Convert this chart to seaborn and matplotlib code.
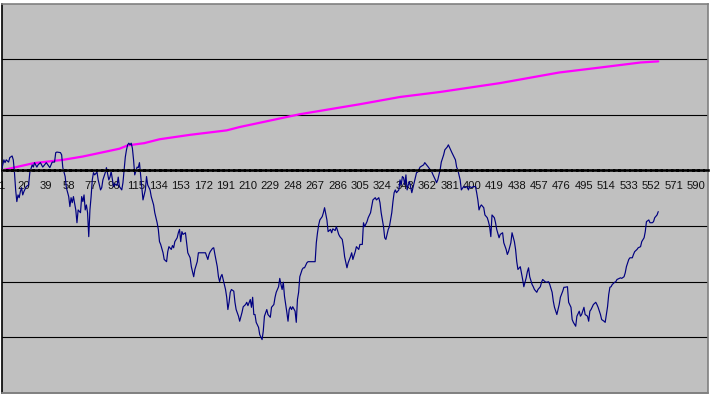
import matplotlib
matplotlib.use("Agg")
import matplotlib.pyplot as plt
import seaborn as sns
import pandas as pd

# ---- data (category index, value) ----
walk_x = [1, 3, 4, 5, 7, 8, 10, 11, 12, 13, 14, 15, 16, 17, 18, 19, 20, 22, 24, 25,
          27, 28, 29, 31, 32, 34, 36, 39, 42, 44, 46, 47, 48, 51, 52, 53, 55, 56, 58, 59,
          60, 61, 62, 64, 65, 66, 68, 69, 70, 71, 72, 73, 74, 75, 76, 77, 78, 79, 80, 82,
          83, 85, 86, 87, 89, 90, 92, 93, 94, 96, 97, 99, 100, 101, 103, 104, 106, 107, 108, 109,
          110, 111, 112, 113, 114, 116, 117, 118, 119, 120, 121, 123, 124, 125, 127, 128, 130, 131, 133, 134,
          135, 136, 138, 139, 141, 142, 143, 145, 146, 147, 148, 150, 151, 152, 153, 154, 155, 157, 158, 159,
          161, 162, 164, 165, 167, 168, 171, 174, 176, 177, 178, 180, 181, 182, 184, 185, 186, 187, 188, 189,
          191, 192, 193, 194, 195, 196, 198, 199, 200, 202, 203, 205, 206, 208, 209, 210, 212, 213, 214, 215,
          216, 217, 219, 220, 222, 223, 224, 226, 227, 229, 230, 232, 233, 234, 236, 237, 238, 239, 240, 241,
          243, 244, 245, 246, 247, 248, 250, 251, 252, 253, 254, 256, 257, 258, 260, 261, 267, 268, 269, 270,
          271, 273, 274, 275, 277, 278, 280, 281, 282, 284, 285, 287, 288, 290, 291, 292, 294, 295, 297, 298,
          299, 301, 302, 304, 305, 307, 308, 309, 311, 312, 314, 315, 316, 318, 319, 321, 322, 323, 325, 326,
          327, 328, 329, 330, 332, 333, 334, 335, 336, 338, 339, 340, 341, 342, 343, 344, 345, 346, 347, 349,
          350, 352, 353, 354, 356, 359, 360, 363, 366, 367, 369, 370, 371, 373, 374, 376, 377, 379, 380, 383,
          386, 387, 388, 390, 391, 393, 394, 396, 397, 398, 400, 401, 403, 404, 405, 406, 407, 408, 410, 411,
          413, 414, 415, 416, 417, 419, 420, 421, 423, 424, 426, 427, 429, 430, 431, 433, 434, 436, 437, 438,
          439, 441, 442, 443, 444, 446, 447, 448, 449, 451, 452, 453, 455, 456, 458, 459, 460, 462, 463, 465,
          466, 468, 469, 470, 472, 474, 475, 477, 478, 479, 481, 482, 484, 485, 486, 488, 489, 491, 492, 493,
          495, 496, 498, 499, 500, 501, 503, 505, 506, 507, 509, 510, 512, 513, 515, 516, 517, 518, 519, 521,
          522, 523, 526, 527, 529, 530, 531, 533, 534, 536, 537, 538, 540, 541, 543, 544, 546, 547, 548, 550,
          551, 553, 554, 555, 557, 558]
walk_y = [0.00, 0.19, 0.14, 0.19, 0.15, 0.23, 0.26, 0.19, -0.04, -0.35, -0.56, -0.44, -0.49, -0.38, -0.31, -0.44, -0.38, -0.29, -0.26, -0.04,
          0.10, 0.06, 0.14, 0.06, 0.10, 0.14, 0.06, 0.14, 0.05, 0.15, 0.15, 0.32, 0.33, 0.32, 0.28, 0.05, -0.11, -0.31, -0.47, -0.65,
          -0.49, -0.58, -0.47, -0.71, -0.94, -0.71, -0.76, -0.47, -0.56, -0.44, -0.71, -0.62, -0.76, -1.19, -0.71, -0.47, -0.17, -0.04, -0.08, -0.03,
          -0.17, -0.35, -0.31, -0.17, -0.04, 0.05, -0.17, -0.12, -0.02, -0.29, -0.24, -0.27, -0.12, -0.29, -0.35, -0.22, 0.24, 0.37, 0.46, 0.49,
          0.46, 0.49, 0.40, 0.19, -0.08, 0.06, 0.05, 0.14, -0.08, -0.31, -0.53, -0.35, -0.11, -0.26, -0.35, -0.47, -0.62, -0.76, -0.94, -1.06,
          -1.28, -1.33, -1.48, -1.60, -1.64, -1.46, -1.37, -1.42, -1.35, -1.39, -1.28, -1.21, -1.12, -1.06, -1.28, -1.10, -1.15, -1.12, -1.30, -1.48,
          -1.57, -1.73, -1.91, -1.78, -1.64, -1.48, -1.48, -1.48, -1.60, -1.51, -1.46, -1.40, -1.39, -1.51, -1.73, -1.91, -2.00, -1.91, -1.87, -1.96,
          -2.14, -2.28, -2.50, -2.37, -2.19, -2.14, -2.17, -2.37, -2.50, -2.62, -2.71, -2.55, -2.45, -2.41, -2.37, -2.43, -2.32, -2.46, -2.28, -2.59,
          -2.59, -2.73, -2.82, -2.95, -3.04, -2.89, -2.62, -2.50, -2.59, -2.64, -2.46, -2.41, -2.28, -2.19, -2.09, -1.94, -2.05, -2.14, -2.01, -2.26,
          -2.55, -2.71, -2.50, -2.45, -2.50, -2.45, -2.53, -2.73, -2.32, -2.19, -1.91, -1.78, -1.75, -1.75, -1.66, -1.64, -1.64, -1.30, -1.12, -0.98,
          -0.89, -0.83, -0.76, -0.67, -0.89, -1.10, -1.06, -1.12, -1.05, -1.08, -1.01, -1.15, -1.19, -1.24, -1.37, -1.55, -1.75, -1.66, -1.55, -1.48,
          -1.60, -1.46, -1.37, -1.42, -1.33, -1.33, -0.94, -1.01, -0.92, -0.85, -0.76, -0.65, -0.53, -0.49, -0.53, -0.49, -0.58, -0.76, -1.01, -1.21,
          -1.24, -1.15, -1.06, -1.01, -0.76, -0.56, -0.40, -0.35, -0.40, -0.35, -0.17, -0.26, -0.11, -0.13, -0.26, -0.08, -0.35, -0.26, -0.20, -0.40,
          -0.31, -0.13, -0.04, -0.03, 0.06, 0.10, 0.14, 0.06, -0.03, -0.08, -0.17, -0.22, -0.17, 0.01, 0.15, 0.28, 0.37, 0.42, 0.46, 0.32,
          0.19, 0.06, 0.01, -0.17, -0.35, -0.29, -0.31, -0.29, -0.35, -0.29, -0.31, -0.29, -0.29, -0.40, -0.53, -0.71, -0.65, -0.62, -0.67, -0.80,
          -0.85, -0.92, -1.01, -1.19, -0.80, -0.85, -0.94, -1.06, -1.21, -1.15, -1.12, -1.30, -1.42, -1.51, -1.46, -1.30, -1.12, -1.28, -1.42, -1.64,
          -1.78, -1.73, -1.84, -1.96, -2.09, -1.93, -1.82, -1.75, -1.91, -2.05, -2.09, -2.14, -2.19, -2.14, -2.09, -2.01, -1.96, -2.00, -2.01, -2.00,
          -2.05, -2.19, -2.35, -2.46, -2.59, -2.41, -2.28, -2.17, -2.10, -2.10, -2.09, -2.37, -2.46, -2.68, -2.73, -2.80, -2.62, -2.53, -2.62, -2.59,
          -2.46, -2.59, -2.62, -2.71, -2.53, -2.50, -2.41, -2.37, -2.41, -2.46, -2.59, -2.68, -2.71, -2.73, -2.45, -2.23, -2.10, -2.09, -2.05, -2.01,
          -2.00, -1.96, -1.93, -1.94, -1.91, -1.84, -1.73, -1.60, -1.57, -1.57, -1.51, -1.46, -1.42, -1.39, -1.37, -1.28, -1.21, -1.10, -0.92, -0.89,
          -0.94, -0.94, -0.92, -0.85, -0.80, -0.74]

trend_x = [1, 28, 53, 70, 101, 108, 122, 135, 161, 192, 203, 254, 305, 339, 373, 424, 474, 509, 543, 558]
trend_y = [0.00, 0.13, 0.19, 0.25, 0.39, 0.45, 0.49, 0.56, 0.64, 0.72, 0.78, 1.01, 1.19, 1.32, 1.41, 1.57, 1.76, 1.85, 1.94, 1.96]

tick_positions = [1, 20, 39, 58, 77, 96, 115, 134, 153, 172, 191, 210, 229, 248, 267, 286,
                  305, 324, 343, 362, 381, 400, 419, 438, 457, 476, 495, 514, 533, 552, 571, 590]
tick_labels = ["1", "20", "39", "58", "77", "96", "115", "134", "153", "172", "191", "210",
               "229", "248", "267", "286", "305", "324", "343", "362", "381", "400", "419",
               "438", "457", "476", "495", "514", "533", "552", "571", "590"]
grid_values = [-3, -2, -1, 1, 2]

walk = pd.DataFrame({"cat": walk_x, "val": walk_y})
trend = pd.DataFrame({"cat": trend_x, "val": trend_y})

sns.set_style("white")
plt.rcParams["font.family"] = ["Liberation Sans", "DejaVu Sans"]
plt.rcParams["lines.scale_dashes"] = False

fig = plt.figure(figsize=(7.12, 3.98), dpi=100, facecolor="white")
ax = fig.add_axes([1.5 / 712, 5 / 398, 706.5 / 712, 389.5 / 398])
ax.set_facecolor("#C0C0C0")

sns.lineplot(data=trend, x="cat", y="val", ax=ax, color="#FF00FF", linewidth=1.6,
             estimator=None, sort=False, zorder=3)
sns.lineplot(data=walk, x="cat", y="val", ax=ax, color="#000080", linewidth=0.85,
             estimator=None, sort=False, zorder=4)

ax.set_xlim(1, 600.2)
ax.set_ylim(-4, 3)
ax.set_xlabel("")
ax.set_ylabel("")

# horizontal gridlines
ax.set_yticks(grid_values)
ax.yaxis.grid(True, color="black", linewidth=0.8)
ax.xaxis.grid(False)
ax.set_axisbelow(True)
ax.tick_params(axis="y", left=False, labelleft=False)

# category axis crossing at zero
ax.axhline(0, color="#F0F0F0", linewidth=1.9, zorder=5)
ax.spines["bottom"].set_position(("data", 0))
ax.spines["bottom"].set_color("black")
ax.spines["bottom"].set_linewidth(1.9)
ax.spines["bottom"].set_linestyle((0, (3.1, 0.7)))
ax.spines["bottom"].set_zorder(6)
ax.set_xticks(tick_positions)
ax.set_xticklabels(tick_labels)
ax.tick_params(axis="x", length=0, pad=7.5, labelsize=8.1, colors="#111111")

# plot area borders
ax.spines["left"].set_color("black")
ax.spines["left"].set_linewidth(1.2)
for s in ("top", "right"):
    ax.spines[s].set_color("#808080")
    ax.spines[s].set_linewidth(1.2)
ax.plot([0, 1], [0, 0], transform=ax.transAxes, color="#808080", linewidth=1.4,
        clip_on=False, zorder=6)

fig.savefig("out.png", dpi=100, facecolor="white")
